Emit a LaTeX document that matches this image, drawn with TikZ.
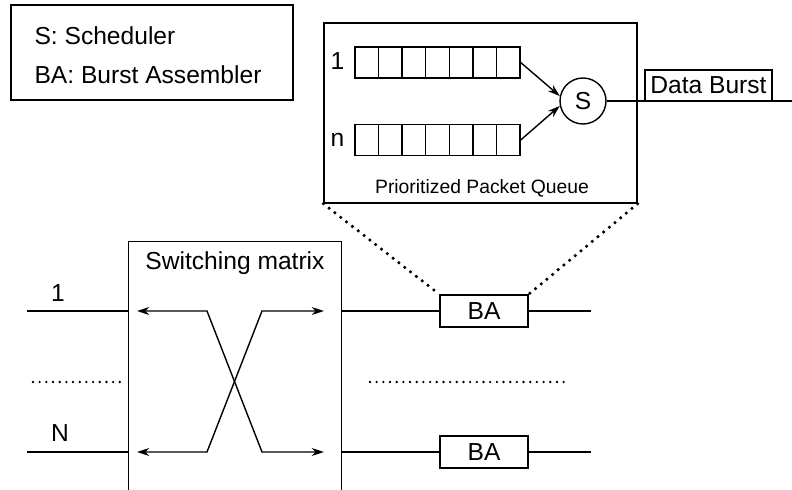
\documentclass[tikz,border=0pt]{standalone}
\usepackage{fontspec}
\setmainfont{Liberation Sans}
\usetikzlibrary{arrows.meta,calc,positioning}

\begin{document}
\begin{tikzpicture}[x=0.02cm,y=-0.02cm,>={Stealth[length=7pt,width=4.5pt]},thick,
    font=\fontsize{14}{16}\selectfont,
    box/.style={draw,rectangle,inner sep=0pt},
    cell/.style={box,minimum width=0.471cm,minimum height=0.62cm},
    dotline/.style={line width=1.5pt,line cap=round,dash pattern=on 0pt off 3.8pt},
    zoomline/.style={line width=2pt,line cap=round,dash pattern=on 0pt off 4.2pt}]
	\useasboundingbox (0,0) rectangle (792,490);
	% legend
	\node[box,minimum width=5.64cm,minimum height=1.9cm] (legend) at (152,52.5) {};
	\node[anchor=base west] (lgs) at (28,45) {S: Scheduler};
	\node[anchor=base west] (lgba) at (28,83) {BA: Burst Assembler};
	% prioritized packet queue
	\node[box,minimum width=6.26cm,minimum height=3.6cm] (qbox) at (480.5,113) {};
	\foreach \i in {1,...,7} {
		\node[cell] (qa\i) at ({355+23.57*(\i-0.5)},62.5) {};
		\node[cell] (qn\i) at ({355+23.57*(\i-0.5)},140) {};
	}
	\node[left=2pt of qa1,yshift=1pt] (la) {1};
	\node[left=2pt of qn1] (ln) {n};
	\node[draw,circle,minimum size=0.92cm,inner sep=0pt] (s) at (583,101) {S};
	\path[->]
		(qa7.east) edge (s.168)
		(qn7.east) edge (s.192);
	\coordinate (out) at (792,101);
	\draw (s.east) -- (out);
	\node[box,minimum width=2.54cm,minimum height=0.62cm] (db) at (708.5,85.5) {Data Burst};
	\node[font=\fontsize{11}{13}\selectfont] (pq) at (482,188) {Prioritized Packet Queue};
	% switching matrix
	\node[minimum width=4.24cm,minimum height=4.96cm] (sw) at (235,366) {};
	\draw (sw.south west) -- (sw.north west) -- (sw.north east) -- (sw.south east);
	\node (swl) at (235,263) {Switching matrix};
	% input ports
	\coordinate (i1) at (27,311);
	\coordinate (iN) at (27,452);
	\draw (i1) -- (i1 -| sw.west);
	\draw (iN) -- (iN -| sw.west);
	\node (l1) at (58,293) {1};
	\node (lN) at (60,433) {N};
	\coordinate (d1) at (33,382);
	\coordinate (d2) at (120,382);
	\draw[dotline] (d1) -- (d2);
	% crossing
	\coordinate (a1) at (137,311);
	\coordinate (b1) at (207,311);
	\coordinate (c1) at (262,311);
	\coordinate (e1) at (324,311);
	\coordinate (aN) at (137,452);
	\coordinate (bN) at (207,452);
	\coordinate (cN) at (262,452);
	\coordinate (eN) at (324,452);
	\draw[<->] (a1) -- (b1) -- (cN) -- (eN);
	\draw[<->] (aN) -- (bN) -- (c1) -- (e1);
	% burst assemblers
	\node[box,minimum width=1.76cm,minimum height=0.64cm] (ba1) at (484,311) {BA};
	\node[box,minimum width=1.76cm,minimum height=0.64cm] (ba2) at (484,452) {BA};
	\coordinate (o1) at (591,311);
	\coordinate (oN) at (591,452);
	\draw (ba1.west -| sw.east) -- (ba1.west) (ba1.east) -- (o1);
	\draw (ba2.west -| sw.east) -- (ba2.west) (ba2.east) -- (oN);
	\coordinate (d3) at (370,382);
	\coordinate (d4) at (567,382);
	\draw[dotline] (d3) -- (d4);
	\draw[zoomline]
		(qbox.south west) -- (ba1.north west)
		(qbox.south east) -- (ba1.north east);
\end{tikzpicture}
\end{document}
